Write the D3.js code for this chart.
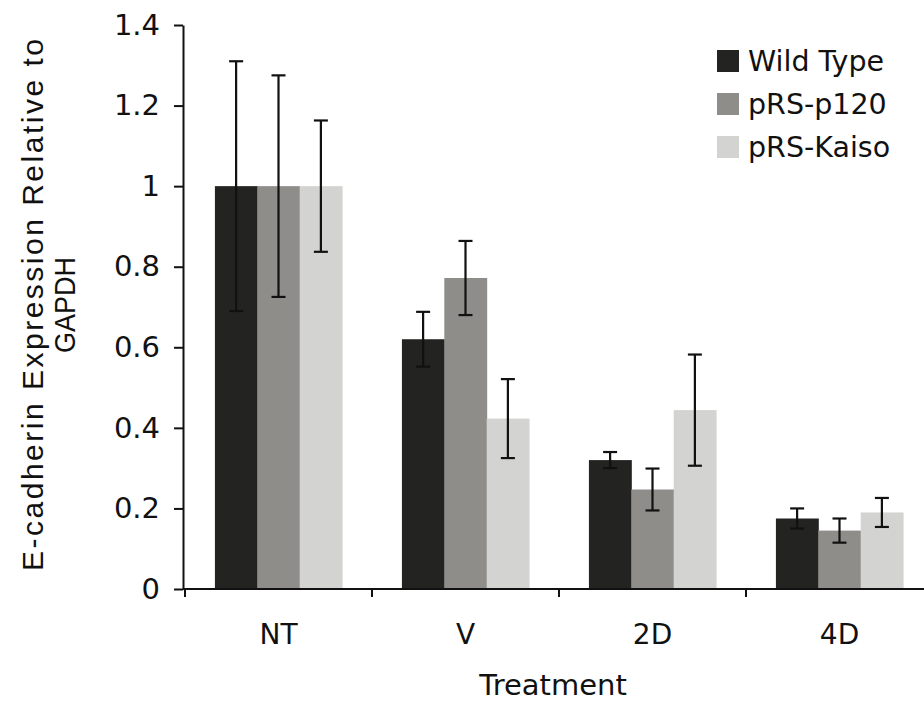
<!DOCTYPE html>
<html>
<head>
<meta charset="utf-8">
<script src="https://cdn.jsdelivr.net/npm/d3@7"></script>
<style>
  body { margin: 0; background: #fff; }
  svg { display: block; }
  .tick text { font-family: "DejaVu Sans", sans-serif; fill: #111; }
</style>
</head>
<body>
<div id="chart"></div>
<script>
// data
var categories = ["NT", "V", "2D", "4D"];
var seriesNames = ["Wild Type", "pRS-p120", "pRS-Kaiso"];
var wildType = [1.0, 0.62, 0.32, 0.175];
var wildTypeErr = [0.31, 0.068, 0.02, 0.025];
var p120 = [1.0, 0.772, 0.247, 0.145];
var p120Err = [0.275, 0.092, 0.052, 0.03];
var kaiso = [1.0, 0.423, 0.444, 0.19];
var kaisoErr = [0.163, 0.098, 0.138, 0.036];
var yTicks = [0, 0.2, 0.4, 0.6, 0.8, 1, 1.2, 1.4];
var barColors = ["#232321", "#8e8d89", "#d3d3d1"];

var svgWidth = 924;
var svgHeight = 701;

var values = [wildType, p120, kaiso];
var errors = [wildTypeErr, p120Err, kaisoErr];

// flatten for drawing
var barData = [];
categories.forEach(function(cat, i) {
  seriesNames.forEach(function(s, j) {
    barData.push({ cat: cat, series: s, idx: j, value: values[j][i], err: errors[j][i] });
  });
});

var svg = d3.select("#chart")
  .append("svg")
  .attr("width", svgWidth)
  .attr("height", svgHeight);

var xScale = d3.scaleBand()
  .domain(categories)
  .range([185, 933])
  .paddingInner(0.32)
  .paddingOuter(0.16);

var xInner = d3.scaleBand()
  .domain(seriesNames)
  .range([0, xScale.bandwidth()]);

var yScale = d3.scaleLinear()
  .domain([0, 1.4])
  .range([589, 25]);

var color = d3.scaleOrdinal()
  .domain(seriesNames)
  .range(barColors);

// bars
svg.append("g")
  .selectAll("rect")
  .data(barData)
  .enter()
  .append("rect")
  .attr("x", d => xScale(d.cat) + xInner(d.series))
  .attr("y", d => yScale(d.value))
  .attr("width", xInner.bandwidth() + 0.5)
  .attr("height", d => yScale(0) - yScale(d.value))
  .attr("fill", d => color(d.series));

// error bars
var capHalf = 7;
var errGroup = svg.append("g")
  .attr("stroke", "#111")
  .attr("stroke-width", 2.2)
  .attr("fill", "none");

var errBars = errGroup.selectAll("g")
  .data(barData)
  .enter()
  .append("g")
  .attr("transform", d => `translate(${xScale(d.cat) + xInner(d.series) + xInner.bandwidth() / 2},0)`);

errBars.append("line")
  .attr("x1", 0).attr("x2", 0)
  .attr("y1", d => yScale(d.value + d.err))
  .attr("y2", d => yScale(d.value - d.err));
errBars.append("line")
  .attr("x1", -capHalf).attr("x2", capHalf)
  .attr("y1", d => yScale(d.value + d.err))
  .attr("y2", d => yScale(d.value + d.err));
errBars.append("line")
  .attr("x1", -capHalf).attr("x2", capHalf)
  .attr("y1", d => yScale(d.value - d.err))
  .attr("y2", d => yScale(d.value - d.err));

// y axis
var leftAxis = d3.axisLeft(yScale)
  .tickValues(yTicks)
  .tickFormat(d3.format("~g"))
  .tickSize(9)
  .tickSizeOuter(0)
  .tickPadding(14);

var yAxis = svg.append("g")
  .attr("transform", "translate(183,0)")
  .call(leftAxis);
yAxis.select(".domain").attr("stroke", "#111").attr("stroke-width", 2);
yAxis.selectAll(".tick line").attr("stroke", "#111").attr("stroke-width", 2);
yAxis.selectAll(".tick text").style("font-size", "29px");

// x axis: ticks at the band boundaries
var xAxisG = svg.append("g");
xAxisG.append("line")
  .attr("x1", 183).attr("x2", 924)
  .attr("y1", yScale(0)).attr("y2", yScale(0))
  .attr("stroke", "#111").attr("stroke-width", 2);

var step = xScale.step();
var boundaries = categories.map(function(c) { return xScale(c) - xScale.paddingOuter() * step; });
xAxisG.selectAll(".xtick")
  .data(boundaries)
  .enter()
  .append("line")
  .attr("class", "xtick")
  .attr("x1", d => d).attr("x2", d => d)
  .attr("y1", yScale(0)).attr("y2", yScale(0) + 8)
  .attr("stroke", "#111").attr("stroke-width", 2);

xAxisG.selectAll(".xlabel")
  .data(categories)
  .enter()
  .append("text")
  .attr("class", "xlabel")
  .attr("x", d => xScale(d) + xScale.bandwidth() / 2)
  .attr("y", 644)
  .attr("text-anchor", "middle")
  .style("font-family", "DejaVu Sans, sans-serif")
  .style("font-size", "28px")
  .attr("fill", "#111")
  .text(d => d);

// axis titles
svg.append("text")
  .attr("x", 553)
  .attr("y", 695)
  .attr("text-anchor", "middle")
  .style("font-family", "DejaVu Sans, sans-serif")
  .style("font-size", "29px")
  .attr("fill", "#111")
  .text("Treatment");

var yTitle = svg.append("g")
  .attr("transform", "translate(0,305) rotate(-90)")
  .style("font-family", "Liberation Sans, Arial, sans-serif")
  .style("font-size", "30px")
  .attr("fill", "#111")
  .attr("text-anchor", "middle");

yTitle.append("text")
  .attr("x", 0)
  .attr("y", 43)
  .attr("textLength", 532)
  .attr("lengthAdjust", "spacing")
  .text("E-cadherin Expression Relative to");

yTitle.append("text")
  .attr("x", 0)
  .attr("y", 75)
  .attr("textLength", 96)
  .attr("lengthAdjust", "spacingAndGlyphs")
  .text("GAPDH");

// legend
var legend = svg.append("g")
  .attr("transform", "translate(717,50)");

var legendRows = legend.selectAll("g")
  .data(seriesNames)
  .enter()
  .append("g")
  .attr("transform", (d, i) => `translate(0,${i * 43})`);

legendRows.append("rect")
  .attr("width", 22)
  .attr("height", 22)
  .attr("fill", d => color(d));

legendRows.append("text")
  .attr("x", 31)
  .attr("y", 21)
  .style("font-family", "DejaVu Sans, sans-serif")
  .style("font-size", "28.5px")
  .attr("fill", "#111")
  .text(d => d);
</script>
</body>
</html>
